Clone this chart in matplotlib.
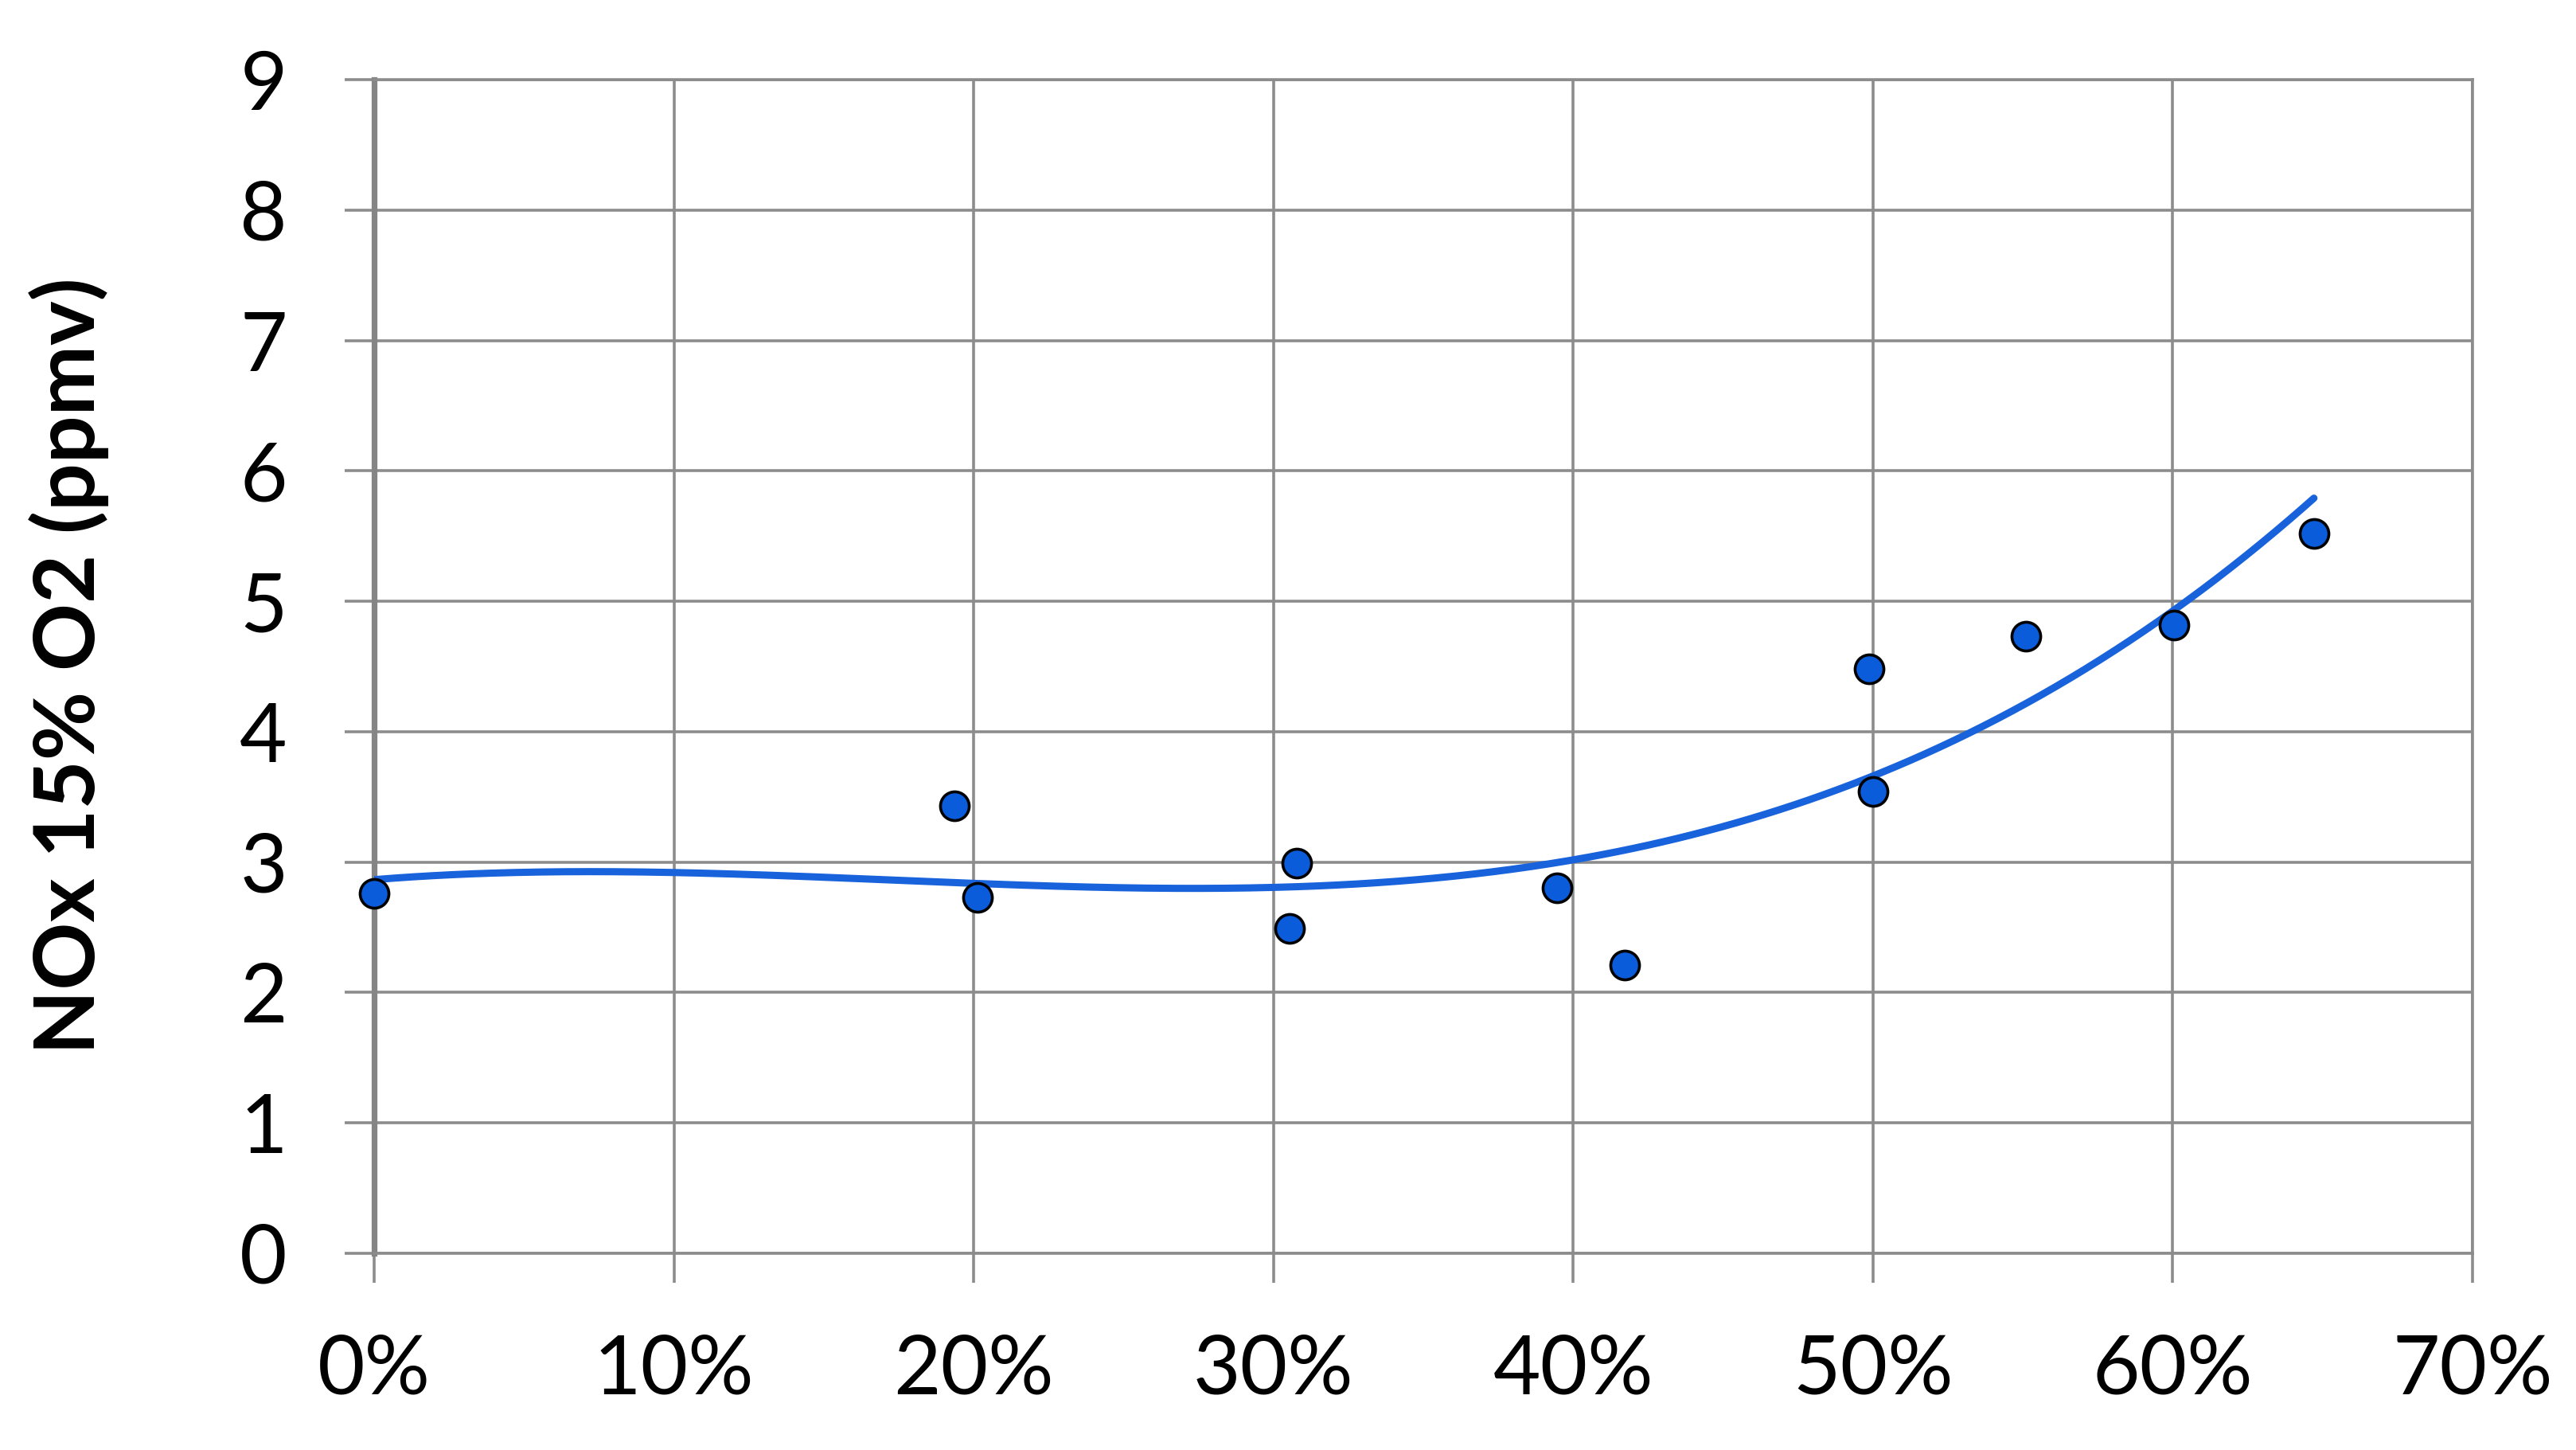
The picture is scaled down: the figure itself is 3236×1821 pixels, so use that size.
import numpy as np
import matplotlib.pyplot as plt

# share of blend (x) vs NOx corrected to 15% O2
blend = [0.0, 0.1936, 0.2012, 0.3054, 0.3078, 0.3947, 0.4173, 0.4988, 0.5000, 0.5509, 0.6004, 0.6471]
nox = [2.76, 3.43, 2.73, 2.49, 2.99, 2.80, 2.21, 4.48, 3.54, 4.73, 4.82, 5.52]

x_ticks = [0.0, 0.1, 0.2, 0.3, 0.4, 0.5, 0.6, 0.7]
x_labels = ['0%', '10%', '20%', '30%', '40%', '50%', '60%', '70%']
y_ticks = [0, 1, 2, 3, 4, 5, 6, 7, 8, 9]

plt.rcParams['font.family'] = ['Lato', 'DejaVu Sans']

W, H = 3237, 1821
fig = plt.figure(figsize=(W / 100, H / 100), dpi=100)
ax = fig.add_axes([470 / W, 1 - 1574 / H, (3106 - 470) / W, (1574 - 100) / H])

grid_col = '#8c8c8c'

# polynomial trendline (order 3) over the data range
coef = np.polyfit(blend, nox, 3)
xs = np.linspace(min(blend), max(blend), 400)
ax.plot(xs, np.polyval(coef, xs), color='#1862dc', lw=6.5, zorder=3,
        solid_capstyle='round')

ax.plot(blend, nox, 'o', ms=26, mfc='#0b5cdb', mec='black', mew=2.6,
        zorder=4, clip_on=False)

ax.set_xlim(0, 0.7)
ax.set_ylim(0, 9)
ax.set_xticks(x_ticks)
ax.set_xticklabels(x_labels)
ax.set_yticks(y_ticks)

ax.set_axisbelow(True)
ax.grid(True, color=grid_col, lw=2.6)
for side in ['top', 'right', 'bottom']:
    ax.spines[side].set_color(grid_col)
    ax.spines[side].set_linewidth(2.6)
ax.spines['left'].set_color('#858585')
ax.spines['left'].set_linewidth(5.2)

ax.tick_params(axis='both', length=26.6, width=2.6, color=grid_col,
               labelsize=74, labelcolor='black')
ax.tick_params(axis='y', pad=52)
ax.tick_params(axis='x', pad=46)

fig.text(87 / W, 1 - 836 / H, 'NOx 15% O2 (ppmv)', rotation=90,
         ha='center', va='center', fontsize=76, fontweight='bold')

fig.savefig('out.png', dpi=100)
